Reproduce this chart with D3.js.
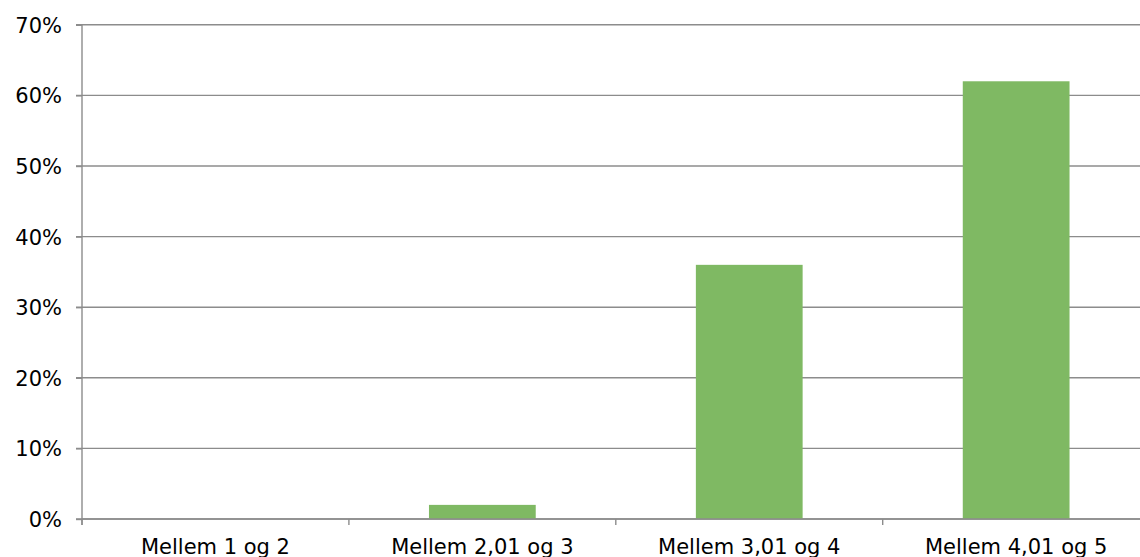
<!DOCTYPE html>
<html>
<head>
<meta charset="utf-8">
<script src="https://cdn.jsdelivr.net/npm/d3@7"></script>
<style>
  html, body { margin: 0; padding: 0; background: #fff; }
  svg { display: block; }
  text { font-family: "DejaVu Sans", Verdana, sans-serif; fill: #000; }
</style>
</head>
<body>
<svg id="chart" width="1140" height="557"></svg>
<script>
// Share of respondents per score interval
const categories = ["Mellem 1 og 2", "Mellem 2,01 og 3", "Mellem 3,01 og 4", "Mellem 4,01 og 5"];
const values = [0, 0.02, 0.36, 0.62];
const yTicks = [0, 0.1, 0.2, 0.3, 0.4, 0.5, 0.6, 0.7];

const W = 1140, H = 557;
const plot = { left: 82, right: 1149.6, top: 24.8, bottom: 519 };
const gridColor = "#8c8c8c";
const barColor = "#7fb963";
const fontSize = 21;

const svg = d3.select("#chart");

const x = d3.scaleBand()
  .domain(categories)
  .range([plot.left, plot.right])
  .paddingInner(0.6)
  .paddingOuter(0.3);

const y = d3.scaleLinear()
  .domain([0, 0.7])
  .range([plot.bottom, plot.top]);

const step = x.step();

// Horizontal gridlines
svg.append("g")
  .selectAll("line")
  .data(yTicks)
  .join("line")
  .attr("x1", plot.left - 6)
  .attr("x2", W)
  .attr("y1", d => y(d))
  .attr("y2", d => y(d))
  .attr("stroke", gridColor)
  .attr("stroke-width", 1.4);

// Bars
svg.append("g")
  .selectAll("rect")
  .data(categories.map((c, i) => ({ c, v: values[i] })))
  .join("rect")
  .attr("x", d => x(d.c))
  .attr("width", x.bandwidth())
  .attr("y", d => y(d.v))
  .attr("height", d => y(0) - y(d.v))
  .attr("fill", barColor);

// Y axis
const yAxis = d3.axisLeft(y)
  .tickValues(yTicks)
  .tickFormat(d3.format(".0%"))
  .tickSize(6)
  .tickPadding(14);

const gy = svg.append("g")
  .attr("transform", `translate(${plot.left},0)`)
  .call(yAxis);
gy.select(".domain").remove();
gy.selectAll(".tick line").attr("stroke", gridColor).attr("stroke-width", 1.4);
gy.selectAll(".tick text")
  .attr("font-size", fontSize)
  .attr("font-family", "DejaVu Sans, Verdana, sans-serif")
  .attr("fill", "#000")
  .attr("dy", "0.36em");

svg.append("line")
  .attr("x1", plot.left).attr("x2", plot.left)
  .attr("y1", plot.top).attr("y2", plot.bottom + 6)
  .attr("stroke", gridColor)
  .attr("stroke-width", 1.4);

// X axis baseline, category boundary ticks and labels
svg.append("line")
  .attr("x1", plot.left).attr("x2", W)
  .attr("y1", y(0)).attr("y2", y(0))
  .attr("stroke", gridColor)
  .attr("stroke-width", 1.4);

const boundaries = categories.map(c => x(c) - step * x.paddingOuter()).concat([plot.right]);
svg.append("g")
  .selectAll("line")
  .data(boundaries)
  .join("line")
  .attr("x1", d => d).attr("x2", d => d)
  .attr("y1", y(0)).attr("y2", y(0) + 6)
  .attr("stroke", gridColor)
  .attr("stroke-width", 1.4);

svg.append("g")
  .selectAll("text")
  .data(categories)
  .join("text")
  .attr("x", d => x(d) + x.bandwidth() / 2)
  .attr("y", y(0) + 35)
  .attr("text-anchor", "middle")
  .attr("font-size", fontSize)
  .text(d => d);
</script>
</body>
</html>
